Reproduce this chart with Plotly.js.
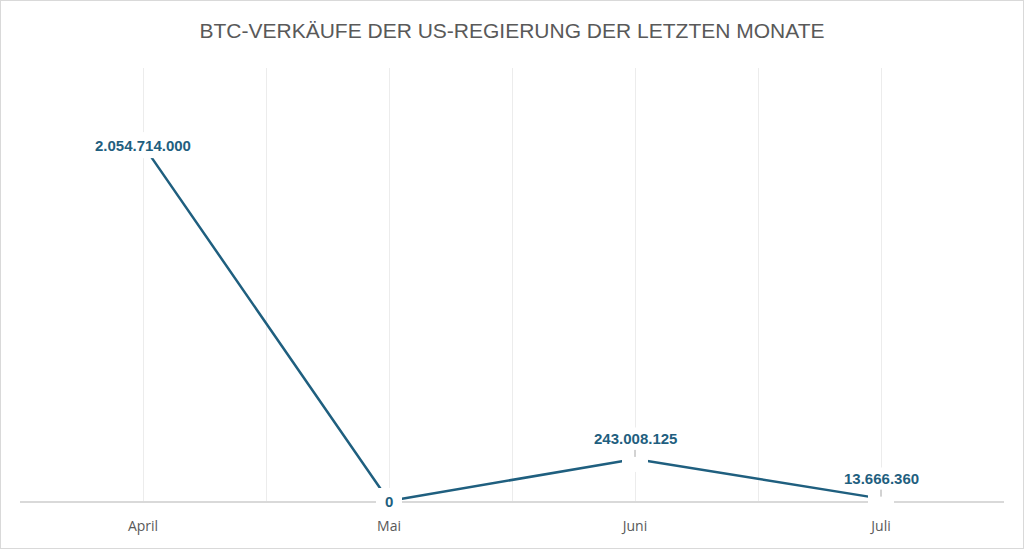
<!DOCTYPE html>
<html>
<head>
<meta charset="utf-8">
<script src="https://cdn.plot.ly/plotly-3.0.1.min.js"></script>
<style>
  html, body { margin: 0; padding: 0; background: #fff; }
  #chart { width: 1022px; height: 547px; border: 1px solid #d9d9d9; }
</style>
</head>
<body>
<div id="chart"></div>
<script>
// BTC-Verkäufe pro Monat (USD)
const months = ['April', 'Mai', 'Juni', 'Juli'];
const sales = [2054714000, 0, 243008125, 13666360];

const lineColor = '#1f5f7f';
const greyText = '#595959';

// deutsche Tausendertrennung
function fmt(v) {
  return String(Math.round(v)).replace(/\B(?=(\d{3})+(?!\d))/g, '.');
}

const xIdx = months.map((m, i) => i);

const trace = {
  type: 'scatter',
  mode: 'lines+markers',
  x: xIdx,
  y: sales,
  line: { color: lineColor, width: 2.5 },
  marker: { symbol: 'square', size: 26, color: '#ffffff', line: { width: 0 } },
  cliponaxis: false,
  hoverinfo: 'skip'
};

// labels: big values sit on the point, small ones get a leader line
const annotations = sales.map((v, i) => {
  const onPoint = (i === 0 || v === 0);
  return {
    x: xIdx[i],
    y: v,
    xref: 'x',
    yref: 'y',
    text: fmt(v),
    font: { family: 'Liberation Sans, Arial, sans-serif', size: 15, color: lineColor, weight: 'bold' },
    bgcolor: '#ffffff',
    borderpad: 2,
    showarrow: !onPoint,
    arrowhead: 0,
    arrowwidth: 1,
    arrowcolor: '#a6a6a6',
    ax: 0,
    ay: onPoint ? 0 : -20,
    standoff: 2
  };
});

const layout = {
  width: 1022,
  height: 547,
  margin: { l: 19, r: 19, t: 67, b: 47 },
  paper_bgcolor: '#ffffff',
  plot_bgcolor: '#ffffff',
  showlegend: false,
  title: {
    text: 'BTC-VERKÄUFE DER US-REGIERUNG DER LETZTEN MONATE',
    font: { family: 'Liberation Sans Narrow, Arial Narrow, sans-serif', size: 21, color: greyText },
    x: 0.5,
    xanchor: 'center',
    y: 0.945,
    yanchor: 'middle'
  },
  xaxis: {
    range: [-0.5, months.length - 0.5],
    tickvals: xIdx,
    ticktext: months,
    showgrid: true,
    gridcolor: '#ececec',
    gridwidth: 1,
    minor: { dtick: 0.5, tick0: -0.5, showgrid: true, gridcolor: '#ececec', gridwidth: 1 },
    zeroline: false,
    showline: true,
    linecolor: '#d9d9d9',
    linewidth: 2,
    ticks: '',
    ticklen: 0,
    ticklabelstandoff: 11,
    tickfont: { family: 'Open Sans, Noto Sans, sans-serif', size: 14, color: greyText },
    layer: 'below traces',
    fixedrange: true
  },
  yaxis: {
    range: [0, 2500000000],
    showgrid: false,
    zeroline: false,
    showline: false,
    showticklabels: false,
    ticks: '',
    fixedrange: true
  },
  annotations: annotations
};

Plotly.newPlot('chart', [trace], layout, { displayModeBar: false, staticPlot: true });
</script>
</body>
</html>
